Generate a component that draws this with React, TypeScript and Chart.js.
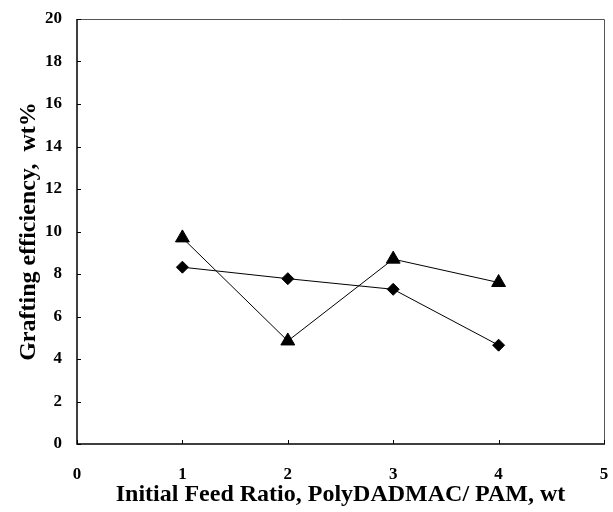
import React, { useEffect, useRef } from "react";
import { Chart, registerables } from "chart.js";

Chart.register(...registerables);

const feedRatio = [1, 2, 3, 4];
const diamondSeries = [8.32, 7.78, 7.28, 4.65];
const triangleSeries = [9.7, 4.85, 8.7, 7.6];
const xTicks = [0, 1, 2, 3, 4, 5];
const yTicks = [0, 2, 4, 6, 8, 10, 12, 14, 16, 18, 20];
const xTitle = "Initial Feed Ratio, PolyDADMAC/ PAM, wt";
const yTitle = "Grafting efficiency,  wt%";

const FONT = "'Liberation Serif', 'Times New Roman', serif";

const frameAndTicks = {
  id: "frameAndTicks",
  afterDatasetsDraw(chart: any) {
    const { ctx, chartArea } = chart;
    const { left, right, top, bottom } = chartArea;
    const xs = chart.scales.x;
    const ys = chart.scales.y;
    ctx.save();
    ctx.strokeStyle = "#555";
    ctx.lineWidth = 1;
    ctx.beginPath();
    ctx.moveTo(left, top + 0.5);
    ctx.lineTo(right + 0.5, top + 0.5);
    ctx.lineTo(right + 0.5, bottom);
    ctx.stroke();
    ctx.strokeStyle = "#000";
    ctx.lineWidth = 1.5;
    ctx.beginPath();
    ctx.moveTo(left, top);
    ctx.lineTo(left, bottom);
    ctx.lineTo(right + 1, bottom);
    ctx.stroke();
    ctx.lineWidth = 1;
    ctx.beginPath();
    for (const v of yTicks) {
      const py = Math.round(ys.getPixelForValue(v)) + 0.5;
      ctx.moveTo(left, py);
      ctx.lineTo(left + 4, py);
    }
    for (const v of xTicks) {
      const px = Math.round(xs.getPixelForValue(v)) + 0.5;
      ctx.moveTo(px, bottom);
      ctx.lineTo(px, bottom - 4);
    }
    ctx.stroke();
    ctx.restore();
  },
};

function noPad(scale: any) {
  scale.paddingLeft = 0;
  scale.paddingRight = 0;
  scale.paddingTop = 0;
  scale.paddingBottom = 0;
}

export default function App() {
  const ref = useRef<HTMLCanvasElement | null>(null);
  useEffect(() => {
    if (!ref.current) return;
    const chart = new Chart(ref.current, {
      type: "line",
      data: {
        datasets: [
          {
            data: feedRatio.map((x, i) => ({ x, y: diamondSeries[i] })),
            borderColor: "#000",
            borderWidth: 1,
            backgroundColor: "#000",
            pointStyle: "rectRot",
            pointRadius: 6,
            pointBorderWidth: 1,
            pointBackgroundColor: "#000",
            pointBorderColor: "#000",
          },
          {
            data: feedRatio.map((x, i) => ({ x, y: triangleSeries[i] })),
            borderColor: "#000",
            borderWidth: 1,
            backgroundColor: "#000",
            pointStyle: "triangle",
            pointRadius: 8,
            pointBorderWidth: 1,
            pointBackgroundColor: "#000",
            pointBorderColor: "#000",
          },
        ],
      },
      options: {
        responsive: false,
        animation: false,
        layout: { padding: { top: 19, right: 9, left: 0, bottom: 0 } },
        plugins: { legend: { display: false }, tooltip: { enabled: false } },
        scales: {
          x: {
            type: "linear",
            min: 0,
            max: 5,
            afterFit(scale: any) {
              scale.height = 68;
              noPad(scale);
            },
            afterBuildTicks(scale: any) {
              scale.ticks = xTicks.map((v) => ({ value: v }));
            },
            grid: { display: false, drawTicks: false },
            border: { display: false },
            ticks: {
              color: "#000",
              font: { family: FONT, size: 17, weight: "bold" },
              padding: 20,
              maxRotation: 0,
            },
            title: {
              display: true,
              text: xTitle,
              color: "#000",
              font: { family: FONT, size: 24, weight: "bold" },
              padding: { top: 0, bottom: 3 },
            },
          },
          y: {
            type: "linear",
            min: 0,
            max: 20,
            afterFit(scale: any) {
              scale.width = 77;
              noPad(scale);
            },
            afterBuildTicks(scale: any) {
              scale.ticks = yTicks.map((v) => ({ value: v }));
            },
            grid: { display: false, drawTicks: false },
            border: { display: false },
            ticks: {
              color: "#000",
              font: { family: FONT, size: 17, weight: "bold" },
              padding: 15,
            },
            title: {
              display: true,
              text: yTitle,
              color: "#000",
              font: { family: FONT, size: 24, weight: "bold" },
              padding: { top: 14, bottom: 0 },
            },
          },
        },
      },
      plugins: [frameAndTicks],
    });
    return () => chart.destroy();
  }, []);
  return (
    <div style={{ position: "absolute", left: 0, top: 0, width: 613, height: 512, background: "#fff" }}>
      <canvas ref={ref} width={613} height={512} />
    </div>
  );
}
